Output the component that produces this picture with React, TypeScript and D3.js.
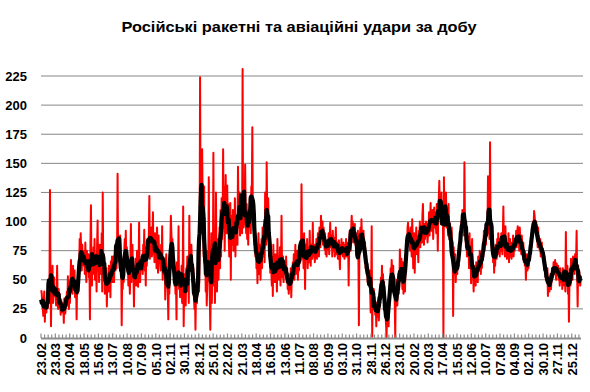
import React from "react";
import * as d3 from "d3";

// daily number of strikes from 23.02 in 4-week blocks
const strikesPart1: number[] = [
  41, 38, 28, 25, 19, 33, 40, 14, 30, 27, 22, 35, 29, 26, 41, 30, 38, 127, 55, 10, 47, 38, 62, 30, 45, 52, 36, 40,
  35, 28, 40, 62, 30, 25, 42, 31, 38, 27, 20, 33, 24, 30, 22, 28, 13, 34, 26, 21, 35, 30, 40, 28, 53, 33, 25, 38,
  30, 48, 67, 40, 55, 38, 62, 44, 50, 58, 35, 42, 48, 16, 45, 38, 52, 40, 60, 85, 65, 90, 72, 58, 80, 66, 75, 62,
  70, 55, 82, 60, 48, 75, 66, 58, 72, 52, 68, 16, 80, 114, 62, 45, 70, 55, 78, 60, 85, 50, 72, 64, 40, 80, 101, 58,
  65, 48, 80, 55, 72, 60, 90, 40, 125, 62, 55, 70, 38, 52, 45, 60, 27, 48, 55, 40, 62, 46, 58, 35, 66, 52, 70, 48,
  55, 70, 48, 62, 75, 58, 80, 60, 75, 141, 72, 78, 82, 60, 88, 78, 70, 11, 55, 42, 60, 48, 75, 85, 70, 92, 65, 78,
  58, 70, 45, 62, 52, 38, 66, 98, 48, 72, 80, 60, 55, 27, 62, 50, 68, 45, 58, 75, 52, 44, 60, 99, 55, 48, 66, 62,
  60, 72, 55, 80, 66, 93, 58, 70, 45, 78, 62, 85, 75, 70, 90, 122, 68, 82, 75, 95, 70, 88, 108, 72, 80, 65, 90, 76,
  82, 60, 95, 75, 56, 88, 70, 72, 65, 58, 80, 62, 96, 50, 70, 64, 55, 68, 33, 60, 72, 55, 48, 40, 16, 52, 38, 60,
  80, 105, 90, 75, 85, 62, 70, 55, 45, 60, 38, 50, 16, 65, 48, 58, 96, 42, 50, 35, 55, 40, 62, 30, 48, 113, 10, 45,
  38, 55, 28, 60, 45, 70, 40, 52, 30, 105, 62, 75, 58, 80, 66, 48, 55, 60, 35, 25, 42, 7, 38, 48, 30, 52, 40, 58,
  40, 65, 224, 110, 90, 120, 162, 120, 95, 70, 130, 55, 80, 40, 60, 28, 45, 75, 50, 138, 60, 35, 7, 48, 90, 30, 70, 55,
  159, 45, 80, 30, 60, 125, 70, 40, 65, 85, 50, 75, 95, 60, 110, 70, 120, 85, 100, 162, 95, 130, 75, 110, 140, 90, 105, 131,
];

const strikesPart2: number[] = [
  100, 115, 85, 70, 95, 116, 50, 105, 80, 90, 110, 75, 98, 88, 120, 70, 100, 85, 92, 80, 147, 110, 95, 125, 88, 105, 118, 100,
  90, 231, 95, 95, 100, 105, 149, 105, 90, 115, 85, 100, 80, 110, 95, 120, 105, 90, 130, 125, 181, 100, 115, 95, 80, 105, 70, 85,
  60, 75, 47, 70, 90, 55, 65, 80, 50, 72, 85, 60, 95, 70, 78, 88, 65, 125, 90, 80, 151, 110, 95, 120, 100, 70, 85, 56,
  75, 60, 45, 70, 36, 80, 55, 62, 48, 72, 66, 58, 40, 85, 62, 70, 50, 58, 78, 45, 64, 105, 60, 52, 70, 48, 66, 58,
  62, 55, 70, 48, 60, 42, 50, 38, 45, 55, 42, 60, 35, 52, 48, 65, 58, 72, 50, 60, 80, 55, 68, 62, 75, 50, 70, 58,
  70, 65, 80, 72, 132, 85, 68, 78, 60, 90, 72, 42, 80, 75, 68, 85, 60, 72, 78, 65, 92, 70, 62, 80, 75, 68, 99, 72,
  70, 80, 65, 78, 72, 85, 68, 75, 90, 80, 70, 95, 82, 78, 105, 92, 85, 100, 80, 95, 88, 76, 90, 72, 84, 70, 82, 76,
  80, 90, 72, 85, 99, 78, 82, 88, 70, 92, 80, 75, 86, 70, 78, 95, 72, 80, 82, 68, 76, 84, 70, 59, 80, 74, 85, 72,
  78, 70, 82, 75, 68, 80, 72, 85, 70, 78, 74, 82, 45, 80, 92, 88, 75, 95, 105, 90, 100, 82, 95, 88, 98, 80, 90, 72,
  85, 70, 92, 75, 11, 80, 88, 95, 78, 102, 85, 90, 80, 92, 75, 70, 82, 60, 72, 55, 65, 48, 60, 50, 45, 58, 40, 22,
  45, 96, 1, 38, 30, 42, 25, 35, 20, 28, 10, 30, 18, 25, 35, 15, 28, 40, 30, 52, 38, 62, 45, 55, 40, 48, 30, 25,
  20, 12, 0, 25, 15, 30, 10, 28, 45, 38, 60, 50, 67, 55, 48, 62, 40, 52, 30, 0, 45, 35, 50, 28, 42, 55, 38, 45,
  76, 60, 55, 68, 50, 42, 65, 38, 48, 55, 40, 62, 70, 85, 78, 95, 99, 88, 92, 80, 75, 95, 85, 70, 102, 88, 60, 82,
];

const strikesPart3: number[] = [
  90, 56, 85, 78, 95, 72, 88, 80, 65, 92, 85, 100, 78, 95, 88, 82, 105, 115, 90, 80, 98, 85, 92, 100, 88, 95, 82, 90,
  95, 108, 88, 100, 116, 92, 105, 98, 110, 85, 102, 112, 95, 108, 100, 90, 115, 105, 75, 110, 120, 135, 105, 118, 112, 125, 108, 115,
  110, 0, 138, 105, 118, 100, 125, 95, 110, 102, 88, 115, 92, 85, 98, 80, 75, 95, 70, 82, 19, 78, 65, 55, 72, 48, 62, 58,
  55, 65, 70, 62, 80, 75, 90, 85, 100, 92, 110, 95, 105, 88, 151, 100, 95, 78, 85, 70, 88, 75, 82, 60, 90, 72, 78, 47,
  70, 85, 60, 55, 40, 62, 50, 58, 45, 65, 52, 60, 48, 70, 62, 58, 75, 65, 55, 72, 60, 68, 80, 70, 92, 75, 85, 95,
  80, 100, 88, 95, 139, 90, 95, 85, 168, 100, 95, 80, 72, 88, 65, 78, 56, 70, 62, 80, 75, 68, 85, 72, 90, 78, 82, 70,
  85, 75, 90, 80, 72, 88, 113, 78, 85, 70, 96, 80, 75, 68, 82, 72, 90, 65, 78, 85, 70, 76, 68, 82, 74, 88, 70, 80,
  75, 85, 80, 92, 78, 88, 96, 82, 90, 75, 95, 85, 80, 72, 88, 78, 70, 82, 65, 75, 62, 70, 50, 68, 72, 58, 66, 60,
  65, 72, 70, 80, 85, 78, 92, 88, 100, 95, 109, 105, 98, 92, 100, 85, 88, 78, 95, 80, 82, 75, 85, 70, 78, 82, 72, 76,
  72, 65, 70, 58, 62, 50, 55, 48, 60, 36, 52, 45, 40, 48, 55, 42, 50, 60, 58, 52, 65, 55, 62, 67, 58, 50, 64, 60,
  55, 62, 50, 58, 45, 60, 52, 48, 56, 42, 60, 50, 55, 45, 58, 40, 91, 52, 48, 62, 38, 55, 14, 50, 60, 45, 68, 55,
  62, 50, 70, 58, 65, 55, 72, 60, 68, 92, 55, 27, 62, 48, 58, 52, 45, 50,
];

// one label every 28 days
const dateLabels = [
  "23.02", "23.03", "20.04", "18.05", "15.06", "13.07", "10.08", "07.09", "05.10", "02.11", "30.11", "28.12",
  "25.01", "22.02", "21.03", "18.04", "16.05", "13.06", "11.07", "08.08", "05.09", "03.10", "31.10", "28.11", "26.12",
  "23.01", "20.02", "20.03", "17.04", "15.05", "12.06", "10.07", "07.08", "04.09", "02.10", "30.10", "27.11", "25.12",
];

const yTicks = [0, 25, 50, 75, 100, 125, 150, 175, 200, 225];
const title = "Російські ракетні та авіаційні удари за добу";

const W = 590;
const H = 392;
const font = "Arial, 'Liberation Sans', sans-serif";

export default function App() {
  const daily = [...strikesPart1, ...strikesPart2, ...strikesPart3];
  const n = daily.length;

  // 7-day average of the daily counts (the black line)
  const avg = daily.map((_, i) =>
    d3.mean(daily.slice(Math.max(0, i - 3), Math.min(n, i + 4))) as number
  );

  const x = d3.scaleLinear().domain([0, 1056]).range([41, 582]);
  const y = d3.scaleLinear().domain([0, 225]).range([338, 76]);

  const line = d3
    .line<number>()
    .x((_, i) => x(i + 0.5))
    .y((d) => y(d));

  const minorTicks = d3.range(0, 1057, 7);

  return (
    <svg
      width={W}
      height={H}
      style={{ position: "absolute", left: 0, top: 0, background: "#fff" }}
    >
      <text
        x={299}
        y={32}
        textAnchor="middle"
        fontFamily={font}
        fontWeight="bold"
        fontSize={15}
        textLength={355}
        lengthAdjust="spacingAndGlyphs"
      >
        {title}
      </text>

      {/* gridlines + y labels */}
      {yTicks.map((t) => (
        <g key={t}>
          {t > 0 && (
            <line x1={41} x2={583} y1={y(t)} y2={y(t)} stroke="#868686" strokeWidth={1} />
          )}
          <text
            x={27}
            y={y(t)}
            textAnchor="end"
            dominantBaseline="central"
            fontFamily={font}
            fontWeight="bold"
            fontSize={13}
          >
            {t}
          </text>
        </g>
      ))}

      <path d={line(daily) ?? ""} fill="none" stroke="#ff0000" strokeWidth={2} strokeLinejoin="round" />
      <path d={line(avg) ?? ""} fill="none" stroke="#000" strokeWidth={4.2} strokeLinejoin="round" />

      {/* x axis */}
      <line x1={41} x2={581} y1={338.5} y2={338.5} stroke="#8c8c8c" strokeWidth={2} />
      {minorTicks.map((t) => (
        <line
          key={t}
          x1={x(t)}
          x2={x(t)}
          y1={t % 28 === 0 ? 333.5 : 334.5}
          y2={338}
          stroke="#8c8c8c"
          strokeWidth={1.2}
        />
      ))}
      {dateLabels.map((lab, k) => (
        <text
          key={lab + k}
          transform={`translate(${x(28 * k + 0.5)},343) rotate(-90)`}
          textAnchor="end"
          dominantBaseline="central"
          fontFamily={font}
          fontWeight="bold"
          fontSize={13}
        >
          {lab}
        </text>
      ))}
    </svg>
  );
}
